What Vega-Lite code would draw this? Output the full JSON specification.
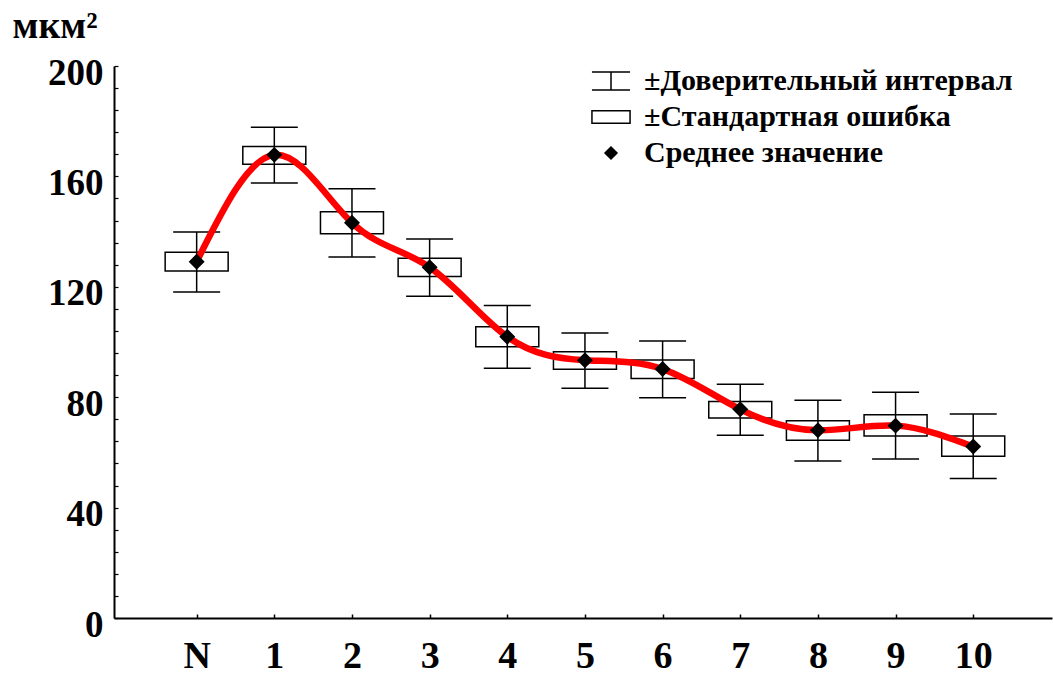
{
  "$schema": "https://vega.github.io/schema/vega-lite/v6.json",
  "autosize": "none",
  "width": 938,
  "height": 552,
  "padding": {"left": 114, "top": 66, "right": 1, "bottom": 57},
  "background": "white",
  "config": {
    "view": {"stroke": null},
    "font": "Liberation Serif, DejaVu Serif",
    "axis": {"labelOverlap": false},
    "legend": {"labelFont": "Liberation Serif, DejaVu Serif", "labelFontWeight": "bold", "symbolStrokeWidth": 1.5}
  },
  "data": {
    "values": [
      {"g": 0, "mean": 129.1, "seLo": 125.7, "seHi": 132.5, "ciLo": 118.1, "ciHi": 139.9},
      {"g": 1, "mean": 167.8, "seLo": 164.4, "seHi": 170.8, "ciLo": 157.6, "ciHi": 177.8},
      {"g": 2, "mean": 143.2, "seLo": 139.2, "seHi": 147.2, "ciLo": 130.8, "ciHi": 155.5},
      {"g": 3, "mean": 127.1, "seLo": 123.7, "seHi": 130.3, "ciLo": 116.6, "ciHi": 137.3},
      {"g": 4, "mean": 101.9, "seLo": 98.3, "seHi": 105.5, "ciLo": 90.5, "ciHi": 113.2},
      {"g": 5, "mean": 93.4, "seLo": 90.1, "seHi": 96.5, "ciLo": 83.2, "ciHi": 103.3},
      {"g": 6, "mean": 90.2, "seLo": 86.8, "seHi": 93.5, "ciLo": 79.8, "ciHi": 100.4},
      {"g": 7, "mean": 75.6, "seLo": 72.5, "seHi": 78.4, "ciLo": 66.2, "ciHi": 84.7},
      {"g": 8, "mean": 68.0, "seLo": 64.4, "seHi": 71.5, "ciLo": 56.9, "ciHi": 78.9},
      {"g": 9, "mean": 69.7, "seLo": 65.9, "seHi": 73.6, "ciLo": 57.6, "ciHi": 81.8},
      {"g": 10, "mean": 62.1, "seLo": 58.6, "seHi": 65.9, "ciLo": 50.5, "ciHi": 73.9}
    ]
  },
  "encoding": {
    "x": {
      "field": "g",
      "type": "quantitative",
      "scale": {"domain": [-1, 10.95], "nice": false, "zero": false},
      "axis": {
        "title": null,
        "values": [0, 1, 2, 3, 4, 5, 6, 7, 8, 9, 10],
        "tickCount": 100,
        "format": "d",
        "labelExpr": "datum.value === 0 ? 'N' : datum.label",
        "grid": false,
        "domainColor": "black",
        "domainWidth": 2,
        "tickColor": "black",
        "tickWidth": 1.5,
        "tickSize": -4,
        "labelFont": "Liberation Serif",
        "labelFontWeight": "bold",
        "labelFontSize": 38,
        "labelColor": "black",
        "labelBaseline": "alphabetic",
        "labelPadding": 53,
        "labelOverlap": false,
        "labelFlush": false
      }
    }
  },
  "layer": [
    {
      "mark": {"type": "bar", "size": 63, "fill": "white", "stroke": "black", "strokeWidth": 1.5},
      "encoding": {
        "y": {
          "field": "seLo",
          "type": "quantitative",
          "scale": {"domain": [0, 200], "nice": false},
          "axis": {
            "title": "мкм²",
            "titleAngle": 0,
            "titleAlign": "left",
            "titleBaseline": "alphabetic",
            "titleX": -102,
            "titleY": -29,
            "titleFont": "Liberation Serif, DejaVu Serif",
            "titleFontSize": 38,
            "titleFontWeight": "bold",
            "titleColor": "black",
            "values": [0, 8, 16, 24, 32, 40, 48, 56, 64, 72, 80, 88, 96, 104, 112, 120, 128, 136, 144, 152, 160, 168, 176, 184, 192, 200],
            "tickCount": 100,
            "labelExpr": "datum.value % 40 === 0 ? datum.label : ''",
            "grid": false,
            "domainColor": "black",
            "domainWidth": 2,
            "tickColor": "black",
            "tickWidth": 1.2,
            "tickSize": -4,
            "labelFont": "Liberation Serif",
            "labelFontWeight": "bold",
            "labelFontSize": 37,
            "labelColor": "black",
            "labelBaseline": "alphabetic",
            "labelOffset": 18,
            "labelPadding": 15,
            "labelOverlap": false,
            "labelFlush": false
          }
        },
        "y2": {"field": "seHi"}
      }
    },
    {
      "mark": {"type": "rule", "color": "black", "strokeWidth": 1.5},
      "encoding": {
        "y": {"field": "ciLo", "type": "quantitative"},
        "y2": {"field": "ciHi"}
      }
    },
    {
      "mark": {"type": "tick", "orient": "horizontal", "size": 47, "thickness": 1.5, "color": "black", "opacity": 1},
      "encoding": {
        "y": {"field": "ciLo", "type": "quantitative"}
      }
    },
    {
      "mark": {"type": "tick", "orient": "horizontal", "size": 47, "thickness": 1.5, "color": "black", "opacity": 1},
      "encoding": {
        "y": {"field": "ciHi", "type": "quantitative"}
      }
    },
    {
      "mark": {"type": "line", "color": "#ff0000", "strokeWidth": 6.5, "interpolate": "natural"},
      "encoding": {
        "y": {"field": "mean", "type": "quantitative"}
      }
    },
    {
      "mark": {"type": "point", "filled": true, "size": 1200, "opacity": 1, "strokeWidth": 1.5},
      "encoding": {
        "y": {"field": "mean", "type": "quantitative"},
        "fill": {
          "datum": "Среднее значение",
          "type": "nominal",
          "scale": {
            "domain": ["±Доверительный интервал", "±Стандартная ошибка", "Среднее значение"],
            "range": ["white", "white", "black"]
          },
          "legend": null
        },
        "stroke": {
          "datum": "Среднее значение",
          "type": "nominal",
          "scale": {
            "domain": ["±Доверительный интервал", "±Стандартная ошибка", "Среднее значение"],
            "range": ["black", "black", "black"]
          },
          "legend": null
        },
        "shape": {
          "datum": "Среднее значение",
          "type": "nominal",
          "scale": {
            "domain": ["±Доверительный интервал", "±Стандартная ошибка", "Среднее значение"],
            "range": [
              "M -1.27 -0.6 L 1.27 -0.6 M 0 -0.6 L 0 0.6 M -1.27 0.6 L 1.27 0.6",
              "M -1.27 -0.42 L 1.27 -0.42 L 1.27 0.42 L -1.27 0.42 Z",
              "M -0.4 0 L 0 -0.4 L 0.4 0 L 0 0.4 Z"
            ]
          },
          "legend": {
            "title": null,
            "orient": "none",
            "legendX": 481,
            "legendY": -1,
            "padding": 0,
            "symbolSize": 900,
            "symbolStrokeWidth": 1.5,
            "rowPadding": 5,
            "labelOffset": 17,
            "labelFont": "Liberation Serif, DejaVu Serif",
            "labelFontWeight": "bold",
            "labelFontSize": 30,
            "labelColor": "black",
            "labelLimit": 0,
            "encode": {
              "symbols": {
                "update": {
                  "fill": {"signal": "datum.value === 'Среднее значение' ? 'black' : 'white'"},
                  "stroke": {"value": "black"},
                  "strokeWidth": {"value": 1.5}
                },
                "fill": {"condition": {"test": "datum.value === 'Среднее значение'", "value": "black"}, "value": "white"},
                "stroke": {"value": "black"},
                "strokeWidth": {"value": 1.5}
              }
            }
          }
        }
      }
    }
  ]
}
